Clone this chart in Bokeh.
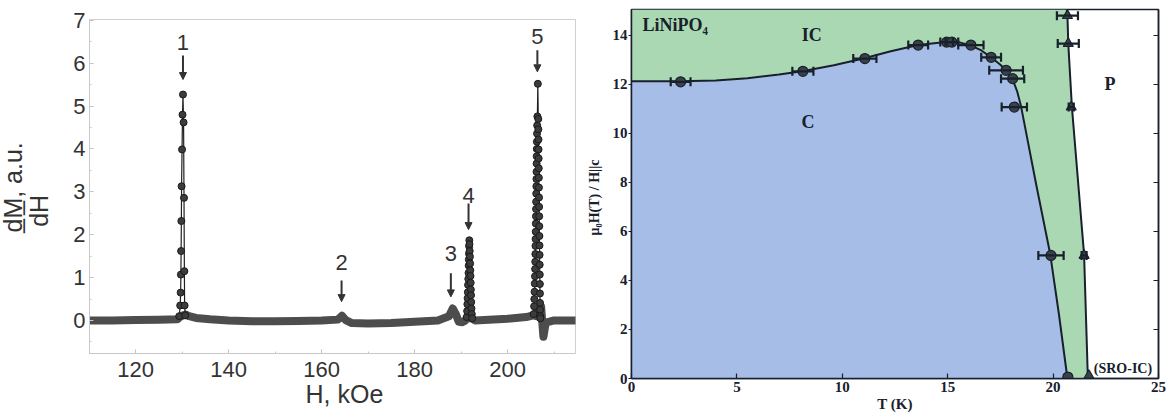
from bokeh.plotting import figure
from bokeh.layouts import row, column
from bokeh.models import (ColumnDataSource, Whisker, TeeHead, Arrow, NormalHead,
                          Label, LinearAxis, Range1d, SingleIntervalTicker, Title)
from bokeh.core.properties import value
from bokeh.embed import file_html
from bokeh.resources import INLINE

# ---------------- left panel: dM/dH versus field ----------------
# smooth background trace (many overlapping points, drawn as a thick band)
base_h = [110.1, 115, 120, 125, 129.0, 129.5, 130.2, 130.8, 131.5, 133, 136, 140, 145, 150,
          155, 160, 163.5, 164.4, 165.2, 166.5, 170, 175, 180, 185, 187.4, 188.2, 188.9,
          189.5, 190.3, 190.9, 191.3, 192.3, 193.0, 195, 200, 204, 205.5, 206.2, 206.9,
          207.2, 207.7, 208.2, 210, 214.6]
base_v = [0.0, 0.0, 0.01, 0.02, 0.03, 0.08, 0.12, 0.14, 0.1, 0.06, 0.03, 0.0, -0.02, -0.02,
          -0.01, 0.0, 0.02, 0.11, 0.01, -0.06, -0.07, -0.06, -0.03, 0.0, 0.1, 0.28, 0.14,
          -0.03, -0.04, 0.0, 0.05, 0.05, 0.0, 0.01, 0.04, 0.08, 0.12, 0.1, 0.3,
          0.33, -0.38, -0.05, 0.0, 0.0]

# peak 1 (two sweeps)
p1_h = [129.4, 129.6, 129.7, 129.75, 129.8, 129.85, 129.9, 130.0, 130.1, 130.2,
        130.33, 130.42, 130.5, 130.55, 130.7]
p1_v = [0.1, 0.35, 0.65, 1.07, 1.62, 2.32, 3.13, 3.99, 4.8, 5.27,
        4.62, 2.86, 1.15, 0.35, 0.12]

# peak 4
p4_h = [191.2, 191.3, 191.35, 191.4, 191.45, 191.5, 191.55, 191.6, 191.63, 191.66, 191.7,
        191.73, 191.77, 191.8, 191.85, 191.9, 191.94, 191.98, 192.02, 192.06, 192.1, 192.14,
        192.18, 192.23, 192.3, 192.4]
p4_v = [0.08, 0.22, 0.38, 0.52, 0.66, 0.83, 0.97, 1.11, 1.28, 1.42, 1.56, 1.73, 1.87,
        1.78, 1.62, 1.49, 1.33, 1.17, 1.04, 0.88, 0.72, 0.59, 0.43, 0.28, 0.15, 0.05]

# peak 5
p5_h = [205.6, 205.7, 205.75, 205.8, 205.85, 205.9, 205.92, 205.95, 205.97, 206.0, 206.02,
        206.05, 206.07, 206.1, 206.12, 206.14, 206.16, 206.18, 206.2, 206.22, 206.24, 206.26,
        206.28, 206.3, 206.33, 206.36, 206.4,
        206.5,
        206.6, 206.62, 206.64, 206.66, 206.68, 206.7, 206.72, 206.74, 206.76, 206.78, 206.8,
        206.82, 206.84, 206.86, 206.88, 206.9, 206.92, 206.94, 206.96, 206.98, 207.0, 207.02,
        207.05]
p5_v = [0.15, 0.33, 0.5, 0.67, 0.86, 1.03, 1.2, 1.37, 1.55, 1.74, 1.9, 2.07, 2.26, 2.43,
        2.6, 2.77, 2.96, 3.13, 3.3, 3.47, 3.66, 3.83, 4.0, 4.17, 4.36, 4.55, 4.76,
        5.52,
        4.7, 4.46, 4.22, 3.99, 3.78, 3.55, 3.33, 3.1, 2.87, 2.65, 2.43, 2.2, 1.97, 1.75,
        1.53, 1.3, 1.07, 0.85, 0.63, 0.41, 0.25, 0.1, 0.05]

peak_ids = ["1", "2", "3", "4", "5"]
peak_lab_h = [130.2, 164.3, 187.8, 191.6, 206.4]
peak_lab_y = [6.49, 1.35, 1.56, 2.92, 6.63]
peak_arrow_top = [6.18, 0.93, 1.1, 2.73, 6.3]
peak_arrow_tip = [5.62, 0.44, 0.55, 2.12, 5.8]

dark = "#333333"
sans = "Liberation Sans"
nbsp = "\u00a0"

p1 = figure(width=583, height=418, x_range=Range1d(110.1, 214.6), y_range=Range1d(-0.77, 7.02),
            output_backend="svg", toolbar_location=None,
            min_border_left=89, min_border_right=8, min_border_top=19, min_border_bottom=65)
p1.xgrid.visible = False
p1.ygrid.visible = False
p1.outline_line_color = "#d0d0d0"
p1.background_fill_color = "white"
p1.border_fill_color = "white"
p1.xaxis.ticker = SingleIntervalTicker(interval=20, num_minor_ticks=2)
p1.yaxis.ticker = SingleIntervalTicker(interval=1, num_minor_ticks=2)
for ax in (p1.xaxis, p1.yaxis):
    ax.axis_line_color = "#c8c8c8"
    ax.major_tick_line_color = "#c0c0c0"
    ax.minor_tick_line_color = "#c8c8c8"
    ax.major_tick_in = 4
    ax.major_tick_out = 0
    ax.minor_tick_in = 2
    ax.minor_tick_out = 0
    ax.major_label_text_font = sans
    ax.major_label_text_font_size = "22px"
    ax.major_label_text_color = dark
p1.xaxis.major_label_standoff = 8
p1.yaxis.major_label_standoff = 4

# y title: "dM/dH, a.u." as a stacked fraction
p1.yaxis.axis_label = "dH" + nbsp * 7
p1.yaxis.axis_label_text_font = sans
p1.yaxis.axis_label_text_font_size = "25px"
p1.yaxis.axis_label_text_font_style = "normal"
p1.yaxis.axis_label_text_color = dark
p1.yaxis.axis_label_standoff = 17
p1.add_layout(Title(text="d\u0332M\u0332, a.u.", align="left", offset=121, vertical_align="bottom",
                    standoff=-8, text_font=sans, text_font_size="25px", text_font_style="normal",
                    text_color=dark), "left")
p1.add_layout(Title(text="H, kOe", align="left", offset=216, vertical_align="top", standoff=0,
                    text_font=sans, text_font_size="25px", text_font_style="normal",
                    text_color=dark), "below")

p1.line(base_h, base_v, line_width=8, line_color="#4d4d4d", line_join="round", line_cap="round")
for hs, vs in ((p1_h, p1_v), (p4_h, p4_v), (p5_h, p5_v)):
    p1.line(hs, vs, line_width=1.2, line_color="#1e1e1e")
    p1.scatter(hs, vs, marker="circle", size=7, fill_color="#3c3c3c", line_color="#1a1a1a",
               line_width=1)

p1.text(x=peak_lab_h, y=peak_lab_y, text=peak_ids, text_font=value(sans), text_font_size="22px",
        text_color=dark, text_align="center", text_baseline="middle")
arrow_src = ColumnDataSource(dict(x=peak_lab_h, y0=peak_arrow_top, y1=peak_arrow_tip))
p1.add_layout(Arrow(source=arrow_src, x_start="x", y_start="y0", x_end="x", y_end="y1",
                    line_color=dark, line_width=2,
                    end=NormalHead(size=7, fill_color=dark, line_color=dark, line_width=1)))

# ---------------- right panel: LiNiPO4 phase diagram ----------------
c_T = [2.33, 8.13, 11.07, 13.6, 14.95, 15.2, 16.1, 17.06, 17.77, 18.08, 18.16, 19.9, 20.7]
c_H = [12.1, 12.53, 13.05, 13.6, 13.72, 13.72, 13.6, 13.1, 12.57, 12.23, 11.07, 5.02, 0.06]
c_dT = [0.47, 0.5, 0.55, 0.47, 0.3, 0.3, 0.6, 0.47, 0.8, 0.55, 0.6, 0.6, 0.0]

tri_T = [20.68, 20.72, 20.86, 21.47, 21.7]
tri_H = [14.8, 13.66, 11.07, 5.02, 0.12]
tri_dT = [0.5, 0.5, 0.12, 0.12, 0.0]

# commensurate / incommensurate boundary
cic_T = [0, 2.3, 4.0, 5.5, 7.0, 8.1, 9.6, 11.0, 12.3, 13.6, 14.9, 15.6, 16.1, 16.6, 17.06,
         17.5, 17.77, 18.08, 18.3, 18.48, 19.2, 19.86, 20.28, 20.68]
cic_H = [12.12, 12.12, 12.15, 12.25, 12.4, 12.53, 12.78, 13.05, 13.35, 13.6, 13.72, 13.7,
         13.58, 13.38, 13.1, 12.8, 12.57, 12.2, 11.7, 11.1, 7.9, 5.09, 2.6, 0.0]
# incommensurate / paramagnetic boundary
icp_T = [20.65, 20.68, 20.72, 20.89, 21.47, 21.65]
icp_H = [15.05, 14.8, 13.66, 11.1, 5.05, 0.0]

T_max = 25
H_max = 15.05

navy = "#18202c"
serif = "Liberation Serif"

p2 = figure(width=593, height=418, x_range=Range1d(0, T_max), y_range=Range1d(0, H_max),
            output_backend="svg", toolbar_location=None,
            min_border_left=46, min_border_right=18, min_border_top=9, min_border_bottom=40)
p2.xgrid.visible = False
p2.ygrid.visible = False
p2.outline_line_color = navy
p2.outline_line_width = 1.5
p2.border_fill_color = "white"
p2.xaxis.ticker = SingleIntervalTicker(interval=5, num_minor_ticks=0)
p2.yaxis.ticker = SingleIntervalTicker(interval=2, num_minor_ticks=0)
for ax in (p2.xaxis, p2.yaxis):
    ax.axis_line_color = navy
    ax.axis_line_width = 1.5
    ax.major_tick_line_color = navy
    ax.major_tick_line_width = 1.2
    ax.minor_tick_line_color = None
    ax.major_label_text_font = serif
    ax.major_label_text_font_style = "bold"
    ax.major_label_text_font_size = "15px"
    ax.major_label_text_color = navy
    ax.axis_label_text_font = serif
    ax.axis_label_text_font_style = "bold"
    ax.axis_label_text_color = navy
p2.xaxis.major_tick_in = 5
p2.xaxis.major_tick_out = 0
p2.xaxis.major_label_standoff = 3
p2.xaxis.axis_label = "T (K)"
p2.xaxis.axis_label_text_font_size = "15px"
p2.xaxis.axis_label_standoff = 1
p2.yaxis.major_tick_in = 0
p2.yaxis.major_tick_out = 3
p2.yaxis.major_label_standoff = 1
p2.yaxis.axis_label = "μ₀H(T)  /  H||c"
p2.yaxis.axis_label_text_font_size = "14px"
p2.yaxis.axis_label_standoff = 8

right_axis = LinearAxis(ticker=SingleIntervalTicker(interval=2, num_minor_ticks=0),
                        major_label_text_font_size="8px", major_label_text_color=None,
                        major_label_standoff=0,
                        axis_line_color=navy, axis_line_width=1.5,
                        major_tick_line_color=navy, major_tick_in=5, major_tick_out=0,
                        minor_tick_line_color=None)
p2.add_layout(right_axis, "right")

# phase regions
p2.patch([0, 0] + icp_T, [0, H_max] + icp_H, fill_color="#aad8b2", line_color=None)
p2.patch([0] + cic_T, [0] + cic_H, fill_color="#a6bde8", line_color=None)
p2.line(cic_T, cic_H, line_color=navy, line_width=2)
p2.line(icp_T, icp_H, line_color=navy, line_width=2)

c_src = ColumnDataSource(dict(H=[h for h, d in zip(c_H, c_dT) if d > 0],
                              lo=[t - d for t, d in zip(c_T, c_dT) if d > 0],
                              hi=[t + d for t, d in zip(c_T, c_dT) if d > 0]))
tri_src = ColumnDataSource(dict(H=[h for h, d in zip(tri_H, tri_dT) if d > 0],
                                lo=[t - d for t, d in zip(tri_T, tri_dT) if d > 0],
                                hi=[t + d for t, d in zip(tri_T, tri_dT) if d > 0]))
for src in (c_src, tri_src):
    p2.add_layout(Whisker(source=src, base="H", lower="lo", upper="hi", dimension="width",
                          level="annotation", line_color=navy, line_width=2.2,
                          upper_head=TeeHead(size=9, line_color=navy, line_width=2.2),
                          lower_head=TeeHead(size=9, line_color=navy, line_width=2.2)))

p2.scatter(c_T, c_H, marker="circle", size=10, fill_color="#3b4149", line_color=navy, line_width=1.2)
p2.scatter(tri_T, tri_H, marker="triangle", size=10, fill_color="#3b4149", line_color=navy,
           line_width=1.2)

for tx, ty, txt, size, align in ((0.52, 14.4, "LiNiPO₄", "18px", "left"),
                                 (8.55, 14.0, "IC", "18px", "center"),
                                 (8.37, 10.46, "C", "18px", "center"),
                                 (22.7, 12.0, "P", "18px", "center"),
                                 (21.93, 0.41, "(SRO-IC)", "14px", "left")):
    p2.add_layout(Label(x=tx, y=ty, text=txt, text_font=serif, text_font_style="bold",
                        text_font_size=size, text_color=navy, text_align=align,
                        text_baseline="middle"))

layout = row(column(p1), column(p2), spacing=0)
open("out.html", "w").write(file_html(layout, INLINE))
